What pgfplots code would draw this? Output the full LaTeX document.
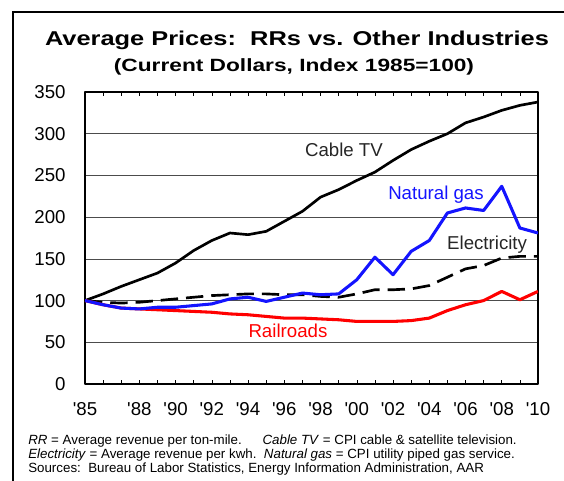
\documentclass[border=0pt]{standalone}
\usepackage{pgfplots}
\pgfplotsset{compat=1.18}
\usepackage{fontspec}
\setmainfont{Liberation Sans}
\newcommand\q{\textquotesingle}
\definecolor{gasblue}{RGB}{20,20,255}
\definecolor{rrred}{RGB}{255,0,0}
\begin{document}
\begin{tikzpicture}[x=1pt,y=1pt]
\useasboundingbox (-63.75,-72) rectangle (359.25,288);
\draw[line width=1.1pt] (-54,-100) -- (-54,279) -- (420,279);
\node[font=\bfseries\fontsize{15}{18}\selectfont] at (159,258) {\scalebox{1.27}[1]{Average Prices:\ \ RRs vs. Other Industries}};
\node[font=\bfseries\fontsize{13.3}{16}\selectfont] at (156.75,238) {\scalebox{1.28}[1]{(Current Dollars, Index 1985=100)}};
\begin{axis}[
  at={(0,0)}, anchor=south west,
  scale only axis, width=339.75pt, height=219pt,
  xmin=1985, xmax=2010, ymin=0, ymax=350,
  ytick={0,50,...,350},
  xtick={1985,1988,1990,1992,1994,1996,1998,2000,2002,2004,2006,2008,2010},
  xticklabels={\q85,\q88,\q90,\q92,\q94,\q96,\q98,\q00,\q02,\q04,\q06,\q08,\q10},
  minor xtick={1986,1987,1989,1991,...,2009},
  ymajorgrids, grid style={black!70, line width=0.5pt},
  tick align=inside,
  major tick length=3pt, minor tick length=3pt,
  ytick style={draw=none},
  xtick style={black, line width=0.4pt},
  minor tick style={black, line width=0.4pt},
  axis line style={line width=1pt},
  tick label style={font=\fontsize{14}{16}\selectfont},
  /pgf/number format/assume math mode=true,
  yticklabel style={xshift=-11pt},
  xticklabel style={yshift=-10pt},
  line join=round,
]
\addplot[black, line width=2pt] coordinates {
(1985,100)(1986,108)(1987,117)(1988,125)(1989,133)(1990,145)(1991,160)(1992,172)
(1993,181)(1994,179)(1995,183)(1996,195)(1997,207)(1998,224)(1999,233)(2000,244)
(2001,254)(2002,268)(2003,281)(2004,291)(2005,300)(2006,313)(2007,320)(2008,328)
(2009,334)(2010,338)};
\addplot[black, line width=2pt, dash pattern=on 13pt off 6pt] coordinates {
(1985,100)(1986,98)(1987,97)(1988,98)(1989,100)(1990,102)(1991,104)(1992,106)
(1993,107)(1994,108)(1995,108)(1996,107)(1997,107)(1998,105)(1999,104)(2000,108)
(2001,113)(2002,113)(2003,114)(2004,118)(2005,128)(2006,138)(2007,142)(2008,151)
(2009,153)(2010,153)};
\addplot[rrred, line width=2.3pt] coordinates {
(1985,100)(1986,95)(1987,91)(1988,90)(1989,89)(1990,88)(1991,87)(1992,86)
(1993,84)(1994,83)(1995,81)(1996,79)(1997,79)(1998,78)(1999,77)(2000,75)
(2001,75)(2002,75)(2003,76)(2004,79)(2005,88)(2006,95)(2007,100)(2008,111)
(2009,101)(2010,111)};
\addplot[gasblue, line width=2.3pt] coordinates {
(1985,100)(1986,95)(1987,91)(1988,90)(1989,92)(1990,92)(1991,94)(1992,96)
(1993,102)(1994,104)(1995,99)(1996,104)(1997,109)(1998,107)(1999,108)(2000,125)
(2001,152)(2002,131)(2003,159)(2004,172)(2005,205)(2006,211)(2007,208)(2008,237)
(2009,187)(2010,181)};
\node[font=\fontsize{14}{16}\selectfont, text=black!85] at (axis cs:1999.29,280.5) {Cable TV};
\node[font=\fontsize{14}{16}\selectfont, text=gasblue] at (axis cs:2004.37,226.5) {Natural gas};
\node[font=\fontsize{14}{16}\selectfont, text=black!85] at (axis cs:2007.19,166.6) {Electricity};
\node[font=\fontsize{14}{16}\selectfont, text=rrred] at (axis cs:1996.2,63.5) {Railroads};
\end{axis}
\node[anchor=west, inner sep=0pt, font=\fontsize{10}{12}\selectfont] at (-42.75,-42.75) {\textit{RR} = Average revenue per ton-mile.\quad\ \ \textit{Cable TV} = CPI cable \& satellite television.};
\node[anchor=west, inner sep=0pt, font=\fontsize{10}{12}\selectfont] at (-42.75,-53.25) {\textit{Electricity} = Average revenue per kwh.\ \ \textit{Natural gas} = CPI utility piped gas service.};
\node[anchor=west, inner sep=0pt, font=\fontsize{10}{12}\selectfont] at (-42.75,-63.75) {Sources:\ \ Bureau of Labor Statistics, Energy Information Administration, AAR};
\end{tikzpicture}
\end{document}
